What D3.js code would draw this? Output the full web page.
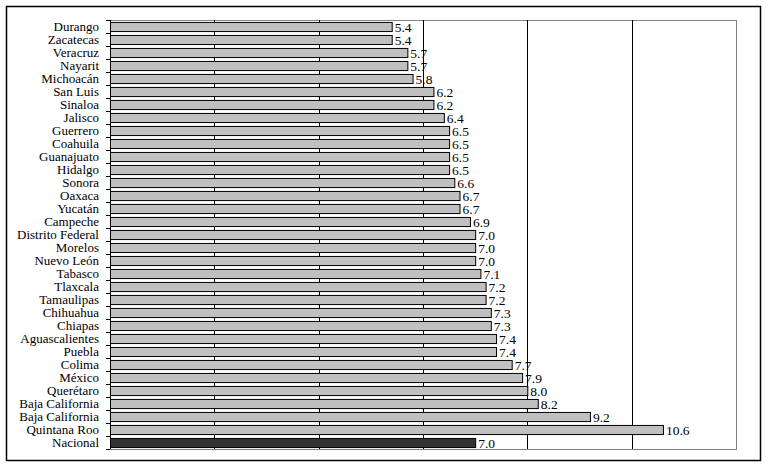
<!DOCTYPE html>
<html><head><meta charset="utf-8">
<script src="https://cdn.jsdelivr.net/npm/d3@7"></script>
<style>body{margin:0;background:#fff}svg{display:block}</style>
</head><body><svg id="c" width="768" height="467"></svg>
<script>
const categories = ["Durango","Zacatecas","Veracruz","Nayarit","Michoacán","San Luis","Sinaloa","Jalisco","Guerrero","Coahuila","Guanajuato","Hidalgo","Sonora","Oaxaca","Yucatán","Campeche","Distrito Federal","Morelos","Nuevo León","Tabasco","Tlaxcala","Tamaulipas","Chihuahua","Chiapas","Aguascalientes","Puebla","Colima","México","Querétaro","Baja California","Baja California","Quintana Roo","Nacional"];
const values = [5.4,5.4,5.7,5.7,5.8,6.2,6.2,6.4,6.5,6.5,6.5,6.5,6.6,6.7,6.7,6.9,7.0,7.0,7.0,7.1,7.2,7.2,7.3,7.3,7.4,7.4,7.7,7.9,8.0,8.2,9.2,10.6,7.0];
const xTicks = [0,2,4,6,8,10,12];

const FONT = "'Liberation Serif', 'Times New Roman', serif";
const svg = d3.select("#c");
const L=110, R=736, T=20, B=449;
const data = categories.map((c,i)=>({c, v: values[i], i}));
const x = d3.scaleLinear().domain([0,12]).range([L,R]);
const y = d3.scaleBand().domain(d3.range(categories.length)).range([T,B]).paddingInner(0.3).paddingOuter(0.15);
const yb = d3.scaleBand().domain(d3.range(categories.length)).range([T,B]);

svg.append("rect").attr("x",6.5).attr("y",6.5).attr("width",754).attr("height",454)
  .attr("fill","none").attr("stroke","#000").attr("stroke-width",1.5);

svg.append("rect").attr("x",L+0.5).attr("y",T+0.5).attr("width",R-L).attr("height",B-T)
  .attr("fill","none").attr("stroke","#808080").attr("stroke-width",1);

svg.append("g").selectAll("line").data(xTicks.slice(1,-1)).join("line")
  .attr("x1",d=>Math.round(x(d))+0.5).attr("x2",d=>Math.round(x(d))+0.5)
  .attr("y1",T).attr("y2",B).attr("stroke","#000").attr("stroke-width",1);

svg.append("g").selectAll("rect").data(data).join("rect")
  .attr("x",x(0)+0.5).attr("y",d=>y(d.i)+0.5)
  .attr("width",d=>x(d.v)-x(0)).attr("height",y.bandwidth())
  .attr("fill",d=>d.c==="Nacional"?"#333333":"#c0c0c0")
  .attr("stroke","#000").attr("stroke-width",1);

svg.append("g").selectAll("text").data(data).join("text")
  .attr("x",d=>x(d.v)+3).attr("y",d=>y(d.i)+y.bandwidth()/2+5)
  .style("font-family",FONT).style("font-size","13.5px").attr("fill","#000").text(d=>d.v.toFixed(1));

const ax = svg.append("g");
ax.append("line").attr("x1",L+0.5).attr("x2",L+0.5).attr("y1",T).attr("y2",B).attr("stroke","#000");
ax.selectAll("line.t").data(d3.range(categories.length+1)).join("line").attr("class","t")
  .attr("x1",L-4).attr("x2",L)
  .attr("y1",d=>Math.round(T+d*yb.step())+0.5).attr("y2",d=>Math.round(T+d*yb.step())+0.5)
  .attr("stroke","#000");
ax.selectAll("text").data(data).join("text")
  .attr("x",99).attr("y",d=>yb(d.i)+yb.bandwidth()/2+4.5)
  .attr("text-anchor","end").style("font-family",FONT).style("font-size","13px").attr("fill","#000").text(d=>d.c);
</script></body></html>
